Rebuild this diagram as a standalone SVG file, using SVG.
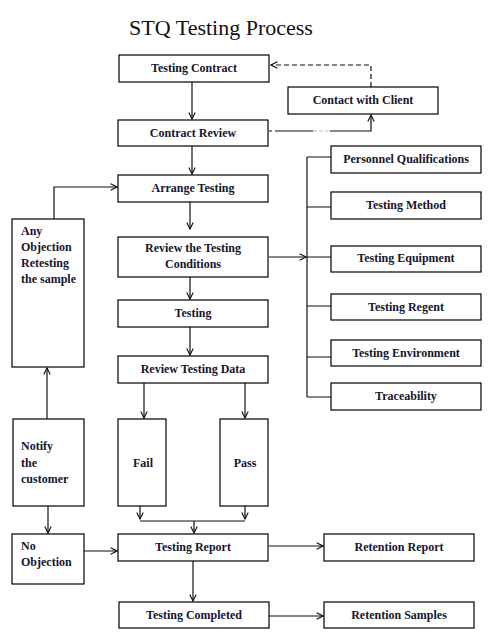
<svg xmlns="http://www.w3.org/2000/svg" width="494" height="634" viewBox="0 0 494 634">
<defs>
<style>
.b{fill:#fff;stroke:#000;stroke-width:1.2}
.t{font-family:"Liberation Serif","Times New Roman",serif;font-weight:bold;font-size:12px;fill:#15152e;text-anchor:middle}
.l{font-family:"Liberation Serif","Times New Roman",serif;font-weight:bold;font-size:12px;fill:#15152e}
.c{fill:none;stroke:#111;stroke-width:1.2}
.d{fill:none;stroke:#111;stroke-width:1.2;stroke-dasharray:5,3}
</style>
<marker id="a" viewBox="0 0 10 10" refX="9" refY="5" markerWidth="8" markerHeight="8" markerUnits="userSpaceOnUse" orient="auto">
<path d="M1,1 L9,5 L1,9" fill="none" stroke="#111" stroke-width="1.4"/>
</marker>
</defs>
<rect width="494" height="634" fill="#fff"/>
<text x="221" y="35" font-family="Liberation Serif,'Times New Roman',serif" font-size="22" fill="#111" text-anchor="middle">STQ Testing Process</text>

<g id="connectors">
<path class="c" d="M192,82 V119" marker-end="url(#a)"/>
<path class="d" d="M371,87 V65 H271" marker-end="url(#a)"/>
<path class="c" d="M269,131 H272 M275,131 H313 M330,131 H371 V115" marker-end="url(#a)"/>
<path d="M313,131 H330" fill="none" stroke="#bbb" stroke-width="1" stroke-dasharray="4,2"/>
<path class="c" d="M192,146 V174" marker-end="url(#a)"/>
<path class="c" d="M190,202 V229" marker-end="url(#a)"/>
<path class="c" d="M269,257 H306" marker-end="url(#a)"/>
<path class="c" d="M307,157 V397"/>
<path class="c" d="M307,157 H331 M307,207 H331 M307,257 H331 M307,306 H331 M307,357 H331 M307,397 H334"/>
<path class="c" d="M190,277 V299" marker-end="url(#a)"/>
<path class="c" d="M190,327 V355" marker-end="url(#a)"/>
<path class="c" d="M144,383 V418" marker-end="url(#a)"/>
<path class="c" d="M245,383 V418" marker-end="url(#a)"/>
<path class="c" d="M140,506 V519" marker-end="url(#a)"/>
<path class="c" d="M245,506 V519" marker-end="url(#a)"/>
<path class="c" d="M140,521 H245"/>
<path class="c" d="M194,521 V533" marker-end="url(#a)"/>
<path class="c" d="M54,219 V187 H117" marker-end="url(#a)"/>
<path class="c" d="M47,419 V368" marker-end="url(#a)"/>
<path class="c" d="M48,506 V533" marker-end="url(#a)"/>
<path class="c" d="M84,551 H117" marker-end="url(#a)"/>
<path class="c" d="M269,546 H323" marker-end="url(#a)"/>
<path class="c" d="M193,561 V601" marker-end="url(#a)"/>
<path class="c" d="M269,616 H323" marker-end="url(#a)"/>
</g>

<g id="testing-contract"><rect class="b" x="119" y="55" width="150" height="27"/><text class="t" x="194" y="72">Testing Contract</text></g>
<g id="contact-client"><rect class="b" x="288" y="87" width="150" height="27"/><text class="t" x="363" y="104">Contact with Client</text></g>
<g id="contract-review"><rect class="b" x="118" y="120" width="150" height="26"/><text class="t" x="193" y="137">Contract Review</text></g>
<g id="arrange-testing"><rect class="b" x="118" y="175" width="150" height="27"/><text class="t" x="193" y="192">Arrange Testing</text></g>
<g id="review-conditions"><rect class="b" x="118" y="237" width="150" height="40"/><text class="t" x="193" y="252">Review the Testing</text><text class="t" x="193" y="268">Conditions</text></g>
<g id="testing"><rect class="b" x="118" y="300" width="150" height="27"/><text class="t" x="193" y="317">Testing</text></g>
<g id="review-data"><rect class="b" x="118" y="356" width="150" height="27"/><text class="t" x="193" y="373">Review Testing Data</text></g>
<g id="fail"><rect class="b" x="118" y="419" width="48" height="87"/><text class="t" x="143" y="467">Fail</text></g>
<g id="pass"><rect class="b" x="220" y="419" width="48" height="87"/><text class="t" x="245" y="467">Pass</text></g>
<g id="testing-report"><rect class="b" x="118" y="534" width="150" height="27"/><text class="t" x="193" y="551">Testing Report</text></g>
<g id="testing-completed"><rect class="b" x="119" y="602" width="150" height="26"/><text class="t" x="194" y="619">Testing Completed</text></g>
<g id="retention-report"><rect class="b" x="324" y="534" width="150" height="27"/><text class="t" x="399" y="551">Retention Report</text></g>
<g id="retention-samples"><rect class="b" x="324" y="602" width="150" height="26"/><text class="t" x="399" y="619">Retention Samples</text></g>

<g id="personnel"><rect class="b" x="331" y="146" width="150" height="27"/><text class="t" x="406" y="163">Personnel Qualifications</text></g>
<g id="method"><rect class="b" x="331" y="192" width="150" height="27"/><text class="t" x="406" y="209">Testing Method</text></g>
<g id="equipment"><rect class="b" x="331" y="246" width="150" height="26"/><text class="t" x="406" y="262">Testing Equipment</text></g>
<g id="regent"><rect class="b" x="331" y="294" width="150" height="26"/><text class="t" x="406" y="311">Testing Regent</text></g>
<g id="environment"><rect class="b" x="331" y="340" width="150" height="26"/><text class="t" x="406" y="357">Testing Environment</text></g>
<g id="traceability"><rect class="b" x="331" y="383" width="150" height="27"/><text class="t" x="406" y="400">Traceability</text></g>

<g id="any-objection"><rect class="b" x="12" y="219" width="72" height="148"/><text class="l" x="21" y="235">Any</text><text class="l" x="21" y="251">Objection</text><text class="l" x="21" y="267">Retesting</text><text class="l" x="21" y="283">the sample</text></g>
<g id="notify"><rect class="b" x="13" y="419" width="71" height="87"/><text class="l" x="21" y="450">Notify</text><text class="l" x="21" y="467">the</text><text class="l" x="21" y="483">customer</text></g>
<g id="no-objection"><rect class="b" x="12" y="534" width="72" height="50"/><text class="l" x="21" y="550">No</text><text class="l" x="21" y="566">Objection</text></g>
</svg>
